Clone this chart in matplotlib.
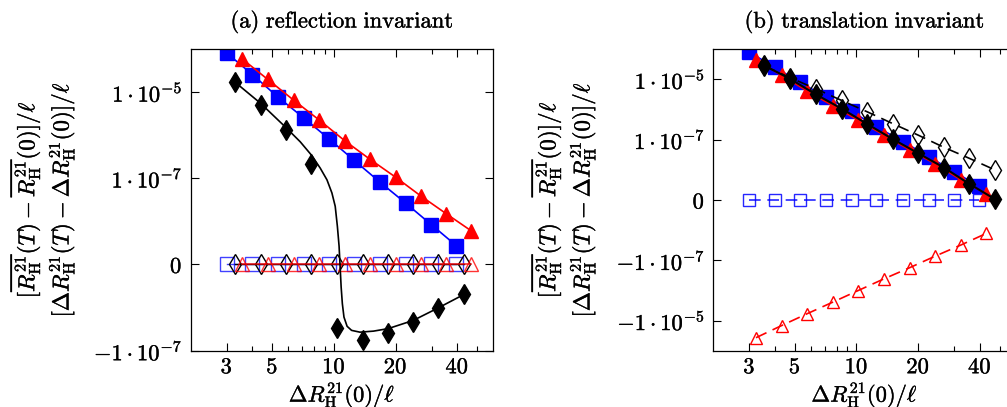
import numpy as np
import matplotlib
matplotlib.use("Agg")
import matplotlib.pyplot as plt
import matplotlib.patheffects as pe
from matplotlib.ticker import NullLocator, FixedFormatter, FixedLocator

plt.rcParams['mathtext.fontset'] = 'cm'
plt.rcParams['font.family'] = ['DejaVu Serif']
plt.rcParams['axes.unicode_minus'] = True

# ---------------- data: panel (a) reflection invariant ----------------
a_blue_x = [3.0, 4.0, 5.32, 7.11, 9.49, 12.5, 16.8, 22.4, 29.9, 39.6]
a_blue_y = [8.2e-5, 2.58e-5, 7.8e-6, 2.54e-6, 8.1e-7, 2.64e-7, 8.0e-8, 2.61e-8, 8.2e-9, 2.66e-9]
a_red_x = [3.55, 4.76, 6.37, 8.49, 11.3, 15.0, 20.0, 26.5, 35.4, 46.8]
a_red_y = [6.08e-5, 1.98e-5, 6.5e-6, 2.24e-6, 7.4e-7, 2.74e-7, 1.05e-7, 3.86e-8, 1.47e-8, 5.9e-9]
a_black_x = [3.28, 4.39, 5.82, 7.76, 10.3, 13.8, 18.4, 24.4, 32.4, 43.1]
a_black_y = [1.74e-5, 5.0e-6, 1.31e-6, 2.1e-7, -2.9e-8, -5.5e-8, -3.8e-8, -2.15e-8, -1.02e-8, -4.9e-9]
a_zero = [0.0] * 10
# fitted curve through the black diamonds (vertices)
a_fit_x = [3.28, 4.39, 5.82, 6.85, 7.76, 8.58, 9.25, 9.78, 10.15, 10.4, 10.6,
           10.85, 11.0, 11.2, 11.6, 12.2, 13.4, 15.6, 18.4, 24.4, 32.4, 43.1]
a_fit_y = [1.74e-5, 5.5e-6, 1.52e-6, 7.0e-7, 3.45e-7, 1.7e-7, 9.1e-8, 4.5e-8, 2.2e-8, 7.5e-9, 2.6e-9,
           -3.3e-9, -8.1e-9, -1.65e-8, -2.7e-8, -3.36e-8, -3.7e-8, -3.5e-8, -3.06e-8, -1.97e-8, -1.0e-8, -4.9e-9]

# ---------------- data: panel (b) translation invariant ----------------
b_blue_x = [2.99, 3.99, 5.28, 7.08, 9.46, 12.5, 16.9, 22.5, 29.9, 39.6]
b_blue_y = [8.0e-5, 2.55e-5, 8.1e-6, 2.6e-6, 8.75e-7, 2.65e-7, 8.5e-8, 2.7e-8, 8.6e-9, 2.75e-9]
b_red_x = [3.23, 4.31, 5.74, 7.69, 10.2, 13.6, 18.2, 24.3, 32.3, 43.0]
b_red_y = [4.5e-5, 1.36e-5, 4.1e-6, 1.31e-6, 4.4e-7, 1.41e-7, 4.5e-8, 1.55e-8, 4.6e-9, 1.58e-9]
b_black_x = [3.54, 4.73, 6.31, 8.45, 11.3, 15.0, 20.0, 26.7, 35.4, 47.3]
b_black_y = [2.9e-5, 1.05e-5, 3.2e-6, 1.07e-6, 3.25e-7, 1.04e-7, 3.5e-8, 1.17e-8, 3.4e-9, 1.05e-9]
b_blue_open_y = [0.0] * 10
b_red_open_y = [-3.7e-5, -1.46e-5, -5.9e-6, -2.4e-6, -9.96e-7, -4.1e-7, -1.73e-7, -7.1e-8, -3.07e-8, -1.26e-8]
b_black_open_y = [2.8e-5, 1.15e-5, 4.9e-6, 2.0e-6, 8.3e-7, 3.4e-7, 1.4e-7, 5.5e-8, 2.4e-8, 9.8e-9]

# ---------------- ticks / labels ----------------
x_major = [3, 5, 10, 20, 40]
x_major_labels = ['$3$', '$5$', '$10$', '$20$', '$40$']
x_minor = [4, 6, 7, 8, 9, 30, 50]
a_yticks = [1e-5, 1e-7, 0, -1e-7]
a_ylabels = [r'$1\cdot10^{-5}$', r'$1\cdot10^{-7}$', r'$0$', r'$-1\cdot10^{-7}$']
b_yticks = [1e-5, 1e-7, 0, -1e-7, -1e-5]
b_ylabels = [r'$1\cdot10^{-5}$', r'$1\cdot10^{-7}$', r'$0$', r'$-1\cdot10^{-7}$', r'$-1\cdot10^{-5}$']
title_a = r'$\mathrm{(a)\ reflection\ invariant}$'
title_b = r'$\mathrm{(b)\ translation\ invariant}$'
ylabel_1 = r'$[\overline{R^{21}_{\mathrm{H}}}(T) - \overline{R^{21}_{\mathrm{H}}}(0)]/\ell$'
ylabel_2 = r'$[\Delta R^{21}_{\mathrm{H}}(T) - \Delta R^{21}_{\mathrm{H}}(0)]/\ell$'
xlabel = r'$\Delta R^{21}_{\mathrm{H}}(0)/\ell$'

BLUE = '#0000ff'
RED = '#ff0000'
BLACK = '#000000'
BOLDEN = [pe.withStroke(linewidth=0.25, foreground='black')]

fig = plt.figure(figsize=(10.07, 4.07), dpi=100)
W, H = 1007.0, 407.0
axw_px, axh_px = 302.6, 301.4
axb_px = H - 350.7
ax_a = fig.add_axes([190.7 / W, axb_px / H, axw_px / W, axh_px / H])
ax_b = fig.add_axes([713.3 / W, axb_px / H, axw_px / W, axh_px / H])

# font sizes chosen so that text widths match the reference (in pixels)
renderer = fig.canvas.get_renderer()


def width_at(s, fs=20.0):
    t = fig.text(0, 0, s, fontsize=fs)
    w = t.get_window_extent(renderer).width
    t.remove()
    return w


FS_TITLE = 20.0 * 223.0 / width_at(title_a)
FS_TICK = 20.0 * 70.0 / width_at(r'$1\cdot10^{-5}$')
FS_XLAB = 20.0 * 106.0 / width_at(xlabel)
FS_YLAB = 20.0 * 235.0 / width_at(ylabel_2)


def style(ax, yticks, ylabels, ylim, title, ylab_right_px):
    ax.set_xscale('log')
    ax.set_yscale('symlog', linthresh=1e-9, linscale=0.01)
    ax.set_xlim(2, 60)
    ax.set_ylim(*ylim)
    ax.xaxis.set_major_locator(FixedLocator(x_major))
    ax.xaxis.set_major_formatter(FixedFormatter(x_major_labels))
    ax.xaxis.set_minor_locator(FixedLocator(x_minor))
    ax.xaxis.set_minor_formatter(FixedFormatter([''] * len(x_minor)))
    ax.yaxis.set_major_locator(FixedLocator(yticks))
    ax.yaxis.set_major_formatter(FixedFormatter(ylabels))
    ax.yaxis.set_minor_locator(NullLocator())
    ax.tick_params(which='both', direction='in', top=True, right=True, labelsize=FS_TICK)
    ax.tick_params(axis='y', pad=6)
    ax.tick_params(axis='x', pad=4)
    ax.tick_params(which='major', length=6, width=0.8)
    ax.tick_params(which='minor', length=3.5, width=0.8)
    for s in ax.spines.values():
        s.set_linewidth(0.9)
    ax.text(0.5, (H - 22 - axb_px) / axh_px, title, transform=ax.transAxes,
            ha='center', va='center', fontsize=FS_TITLE, path_effects=BOLDEN)
    ax.set_xlabel(xlabel, fontsize=FS_XLAB, path_effects=BOLDEN)
    ax.xaxis.set_label_coords(0.5, (H - 380 - axb_px) / axh_px)
    ax.set_ylabel(ylabel_1 + '\n' + ylabel_2, fontsize=FS_YLAB, linespacing=1.2, path_effects=BOLDEN)
    x0 = ax.get_position().x0 * W
    ax.yaxis.set_label_coords(-(x0 - ylab_right_px) / axw_px, 0.5)
    for lab in ax.get_xticklabels() + ax.get_yticklabels():
        lab.set_path_effects(BOLDEN)


# panel (a)
ax = ax_a
ax.plot(a_blue_x, a_zero, color=BLUE, lw=1.0, marker='s', ms=9.5, mfc='none', mec=BLUE, mew=1.0, alpha=0.75)
ax.plot(a_black_x, a_zero, color=BLACK, lw=1.0, marker='d', ms=10, mfc='none', mec=BLACK, mew=1.0)
ax.plot(a_red_x, a_zero, color=RED, lw=1.2, marker='^', ms=9.5, mfc='none', mec=RED, mew=1.0, alpha=0.8)
ax.plot(a_blue_x, a_blue_y, color=BLUE, lw=1.2, marker='s', ms=9.5, mec=BLUE, mfc=BLUE)
ax.plot(a_red_x, a_red_y, color=RED, lw=1.2, marker='^', ms=9.5, mec=RED, mfc=RED)
ax.plot(a_fit_x, a_fit_y, color=BLACK, lw=1.2)
ax.plot(a_black_x, a_black_y, ls='none', marker='d', ms=10, color=BLACK)
style(ax, a_yticks, a_ylabels, (-1e-7, 1e-4), title_a, 77)

# panel (b)
ax = ax_b
dash = (7, 4)
ax.plot(b_blue_x, b_blue_open_y, color=BLUE, lw=1.2, dashes=dash, marker='s', ms=8, mfc='none', mec=BLUE, mew=1.0, alpha=0.85)
ax.plot(b_red_x, b_red_open_y, color=RED, lw=1.2, dashes=dash, marker='^', ms=9, mfc='none', mec=RED, mew=1.0)
ax.plot(b_blue_x, b_blue_y, color=BLUE, lw=1.2, marker='s', ms=9.5, mec=BLUE, mfc=BLUE)
ax.plot(b_red_x, b_red_y, color=RED, lw=1.2, marker='^', ms=9.5, mec=RED, mfc=RED)
ax.plot(b_black_x, b_black_open_y, color=BLACK, lw=1.2, dashes=dash, marker='d', ms=10, mfc='none', mec=BLACK, mew=1.0)
ax.plot(b_black_x, b_black_y, color=BLACK, lw=1.5, marker='d', ms=10, mfc=BLACK, mec=BLACK)
style(ax, b_yticks, b_ylabels, (-1e-4, 1e-4), title_b, 598)

fig.savefig('out.png', dpi=100)
